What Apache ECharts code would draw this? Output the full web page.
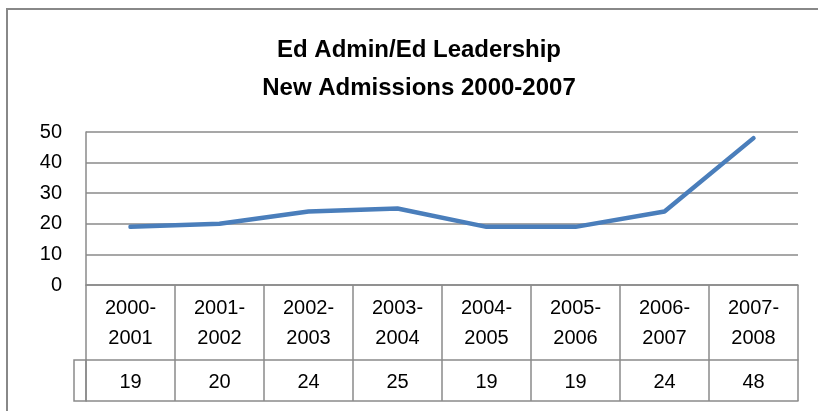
<!DOCTYPE html>
<html>
<head>
<meta charset="utf-8">
<script src="https://cdn.jsdelivr.net/npm/echarts@6/dist/echarts.min.js"></script>
<style>
  html, body { margin: 0; padding: 0; background: #fff; }
  #chart { width: 818px; height: 411px; }
</style>
</head>
<body>
<div id="chart"></div>
<script>
// school years and new admissions
const years = ['2000-\n2001', '2001-\n2002', '2002-\n2003', '2003-\n2004',
               '2004-\n2005', '2005-\n2006', '2006-\n2007', '2007-\n2008'];
const admissions = [19, 20, 24, 25, 19, 19, 24, 48];
const yTicks = [0, 10, 20, 30, 40, 50];

const chart = echarts.init(document.getElementById('chart'));
const font = 'Liberation Sans, Arial, sans-serif';
const gray = '#8a8a8a';

chart.setOption({
    animation: false,
    title: {
        text: 'Ed Admin/Ed Leadership\nNew Admissions 2000-2007',
        left: 414,
        top: 26,
        textAlign: 'center',
        textStyle: {
            fontFamily: font,
            fontSize: 24,
            fontWeight: 'bold',
            color: '#000',
            lineHeight: 38
        }
    },
    grid: { left: 86, right: 20, top: 132, bottom: 126 },
    xAxis: [
        {
            // category row
            type: 'category',
            data: years,
            boundaryGap: true,
            axisLine: { show: true, lineStyle: { color: gray, width: 1.5 } },
            axisTick: { show: true, interval: 0, length: 75, lineStyle: { color: gray, width: 1.5 } },
            axisLabel: {
                interval: 0, margin: 8, fontFamily: font, fontSize: 20,
                color: '#000', lineHeight: 30
            }
        },
        {
            // data table row
            type: 'category',
            data: years,
            position: 'bottom',
            offset: 75,
            boundaryGap: true,
            axisLine: { show: true, lineStyle: { color: gray, width: 1.5 } },
            axisTick: { show: true, interval: 0, length: 41, lineStyle: { color: gray, width: 1.5 } },
            axisLabel: {
                interval: 0, margin: 12, fontFamily: font, fontSize: 20, color: '#000',
                formatter: (v, i) => String(admissions[i])
            }
        },
        {
            // bottom edge of table
            type: 'category',
            data: years,
            position: 'bottom',
            offset: 116,
            axisLine: { show: true, lineStyle: { color: gray, width: 1.5 } },
            axisTick: { show: false },
            axisLabel: { show: false }
        }
    ],
    yAxis: {
        type: 'value',
        min: yTicks[0],
        max: yTicks[yTicks.length - 1],
        interval: 10,
        axisLine: { show: true, lineStyle: { color: gray, width: 1.5 } },
        axisTick: { show: false },
        axisLabel: { margin: 24, fontFamily: font, fontSize: 20, color: '#000' },
        splitLine: { lineStyle: { color: gray, width: 1.5 } }
    },
    graphic: [
        {
            type: 'rect',
            shape: { x: 7, y: 9, width: 900, height: 500 },
            style: { fill: 'none', stroke: '#888', lineWidth: 2 },
            silent: true
        },
        {
            type: 'rect',
            shape: { x: 74, y: 360, width: 12, height: 41 },
            style: { fill: 'none', stroke: gray, lineWidth: 1.5 },
            silent: true
        }
    ],
    series: [
        {
            name: 'New Admissions',
            type: 'line',
            data: admissions,
            showSymbol: false,
            lineStyle: { color: '#4a7ebb', width: 4.5, cap: 'round', join: 'round' }
        }
    ]
});
</script>
</body>
</html>
